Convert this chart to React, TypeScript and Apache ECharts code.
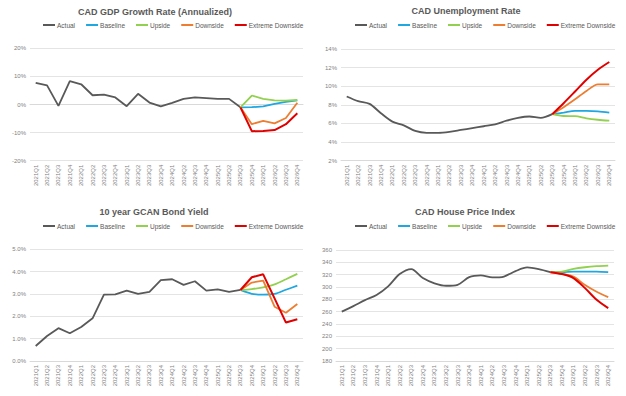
import React, { useEffect, useRef } from "react";
import * as echarts from "echarts";

const categories = [
  "2021Q1", "2021Q2", "2021Q3", "2021Q4",
  "2022Q1", "2022Q2", "2022Q3", "2022Q4",
  "2023Q1", "2023Q2", "2023Q3", "2023Q4",
  "2024Q1", "2024Q2", "2024Q3", "2024Q4",
  "2025Q1", "2025Q2", "2025Q3", "2025Q4",
  "2026Q1", "2026Q2", "2026Q3", "2026Q4",
];

const seriesNames = ["Actual", "Baseline", "Upside", "Downside", "Extreme Downside"];
const seriesColors = ["#595959", "#1ea7e1", "#92d050", "#ed7d31", "#e00000"];

// Actual values 2021Q1..2025Q3; forecasts 2025Q3..2026Q4
const gdpActual = [7.7, 6.8, -0.5, 8.3, 7.2, 3.3, 3.5, 2.5, -0.6, 3.8, 0.7, -0.7, 0.6, 2.0, 2.5, 2.3, 2.0, 2.0, -1.0];
const gdpBaseline = [-1.0, -0.95, -0.7, 0.2, 0.9, 1.5];
const gdpUpside = [-1.0, 3.2, 2.0, 1.5, 1.4, 1.6];
const gdpDownside = [-1.0, -7.0, -5.8, -6.7, -4.8, 0.6];
const gdpExtreme = [-1.0, -9.5, -9.4, -9.1, -7.0, -3.1];

const unempActual = [8.9, 8.4, 8.1, 7.1, 6.2, 5.8, 5.2, 5.0, 5.0, 5.1, 5.3, 5.5, 5.7, 5.9, 6.3, 6.6, 6.75, 6.6, 7.0];
const unempBaseline = [7.0, 7.17, 7.35, 7.35, 7.3, 7.17];
const unempUpside = [7.0, 6.8, 6.78, 6.55, 6.4, 6.3];
const unempDownside = [7.0, 7.75, 8.6, 9.5, 10.2, 10.2];
const unempExtreme = [7.0, 8.18, 9.43, 10.7, 11.77, 12.6];

const bondActual = [0.67, 1.12, 1.47, 1.24, 1.52, 1.91, 2.97, 2.98, 3.15, 3.0, 3.09, 3.62, 3.66, 3.41, 3.57, 3.15, 3.21, 3.09, 3.18];
const bondBaseline = [3.18, 3.01, 2.97, 3.0, 3.19, 3.37];
const bondUpside = [3.18, 3.22, 3.3, 3.43, 3.66, 3.9];
const bondDownside = [3.18, 3.51, 3.6, 2.43, 2.16, 2.55];
const bondExtreme = [3.18, 3.75, 3.88, 2.8, 1.72, 1.87];

const houseActual = [260, 269, 278.7, 287, 301, 321, 329, 314.5, 306, 302, 303.6, 316, 318.7, 315.5, 317, 325.8, 331.7, 329, 324];
const houseBaseline = [324, 324, 324.9, 324.9, 324.9, 324];
const houseUpside = [324, 324.9, 329.3, 332, 333.7, 334.6];
const houseDownside = [324, 321.1, 316.8, 303.2, 292.3, 283.6];
const houseExtreme = [324, 321, 314.5, 298.2, 279.2, 265.7];

const FONT = "Liberation Sans, Arial, sans-serif";

function padForecast(arr: number[]) {
  const out: (number | null)[] = [];
  for (let i = 0; i < 18; i++) out.push(null);
  return out.concat(arr);
}

type Panel = {
  title: string;
  titleX: number;
  titleY: number;
  legendLeft: number;
  legendTop: number;
  grid: { left: number; top: number; width: number; height: number };
  min: number;
  max: number;
  interval: number;
  fmt: (v: number) => string;
  smooth: boolean[];
  data: (number | null)[][];
};

const panels: Panel[] = [
  {
    title: "CAD GDP Growth Rate (Annualized)",
    titleX: 155, titleY: 12, legendLeft: 43, legendTop: 21.5,
    grid: { left: 30, top: 48.3, width: 273, height: 112.4 },
    min: -20, max: 20, interval: 10,
    fmt: (v) => v + "%",
    smooth: [false, false, false, false, false],
    data: [gdpActual, padForecast(gdpBaseline), padForecast(gdpUpside), padForecast(gdpDownside), padForecast(gdpExtreme)],
  },
  {
    title: "CAD Unemployment Rate",
    titleX: 466, titleY: 11, legendLeft: 355, legendTop: 21.5,
    grid: { left: 341, top: 49, width: 274, height: 111.7 },
    min: 2, max: 14, interval: 2,
    fmt: (v) => v + "%",
    smooth: [true, true, true, true, true],
    data: [unempActual, padForecast(unempBaseline), padForecast(unempUpside), padForecast(unempDownside), padForecast(unempExtreme)],
  },
  {
    title: "10 year GCAN Bond Yield",
    titleX: 154, titleY: 212, legendLeft: 43, legendTop: 222.5,
    grid: { left: 30, top: 249.3, width: 273, height: 111.7 },
    min: 0, max: 5, interval: 1,
    fmt: (v) => v.toFixed(1) + "%",
    smooth: [false, true, true, false, false],
    data: [bondActual, padForecast(bondBaseline), padForecast(bondUpside), padForecast(bondDownside), padForecast(bondExtreme)],
  },
  {
    title: "CAD House Price Index",
    titleX: 465, titleY: 212, legendLeft: 355, legendTop: 222.5,
    grid: { left: 336, top: 250, width: 278, height: 111 },
    min: 180, max: 360, interval: 20,
    fmt: (v) => String(v),
    smooth: [true, true, true, true, true],
    data: [houseActual, padForecast(houseBaseline), padForecast(houseUpside), padForecast(houseDownside), padForecast(houseExtreme)],
  },
];

export default function App() {
  const ref = useRef<HTMLDivElement>(null);

  useEffect(() => {
    if (!ref.current) return;
    const chart = echarts.init(ref.current, undefined, { renderer: "svg" });

    const grids: any[] = [];
    const xAxes: any[] = [];
    const yAxes: any[] = [];
    const legends: any[] = [];
    const series: any[] = [];
    const graphics: any[] = [];

    panels.forEach((p, pi) => {
      grids.push({ ...p.grid, containLabel: false });
      xAxes.push({
        type: "category",
        gridIndex: pi,
        data: categories,
        boundaryGap: true,
        axisTick: { show: false },
        axisLine: { show: true, lineStyle: { color: "#d9d9d9", width: 1 } },
        axisLabel: {
          interval: 0,
          rotate: 90,
          fontSize: 6,
          color: "#7f7f7f",
          fontFamily: FONT,
          margin: 4,
        },
      });
      yAxes.push({
        type: "value",
        gridIndex: pi,
        min: p.min,
        max: p.max,
        interval: p.interval,
        axisLine: { show: false },
        axisTick: { show: false },
        splitLine: { show: true, lineStyle: { color: "#e4e4e4", width: 1 } },
        axisLabel: {
          fontSize: 6,
          color: "#7f7f7f",
          fontFamily: FONT,
          margin: 4,
          formatter: p.fmt,
        },
      });
      legends.push({
        left: p.legendLeft,
        top: p.legendTop,
        orient: "horizontal",
        icon: "rect",
        itemWidth: 12,
        itemHeight: 2,
        itemGap: 11,
        padding: 0,
        textStyle: { fontSize: 6.5, color: "#595959", fontFamily: FONT, padding: [0, 0, 0, -3] },
        data: seriesNames,
        selectedMode: false,
      });
      graphics.push({
        type: "text",
        x: p.titleX,
        y: p.titleY,
        style: {
          text: p.title,
          fill: "#595959",
          font: `bold 9px ${FONT}`,
          textAlign: "center",
          textVerticalAlign: "middle",
        },
      });
      seriesNames.forEach((name, si) => {
        series.push({
          type: "line",
          name,
          xAxisIndex: pi,
          yAxisIndex: pi,
          data: p.data[si],
          symbol: "none",
          smooth: p.smooth[si] ? 0.3 : false,
          connectNulls: false,
          z: si === 0 ? 2 : 3 + si,
          lineStyle: { color: seriesColors[si], width: si === 4 ? 2 : 1.8 },
          itemStyle: { color: seriesColors[si] },
        });
      });
    });

    chart.setOption({
      animation: false,
      backgroundColor: "#ffffff",
      grid: grids,
      xAxis: xAxes,
      yAxis: yAxes,
      legend: legends,
      series,
      graphic: graphics,
    });

    return () => chart.dispose();
  }, []);

  return (
    <div style={{ position: "absolute", left: 0, top: 0, width: 626, height: 396, background: "#fff" }}>
      <div ref={ref} style={{ width: 626, height: 396 }} />
    </div>
  );
}
